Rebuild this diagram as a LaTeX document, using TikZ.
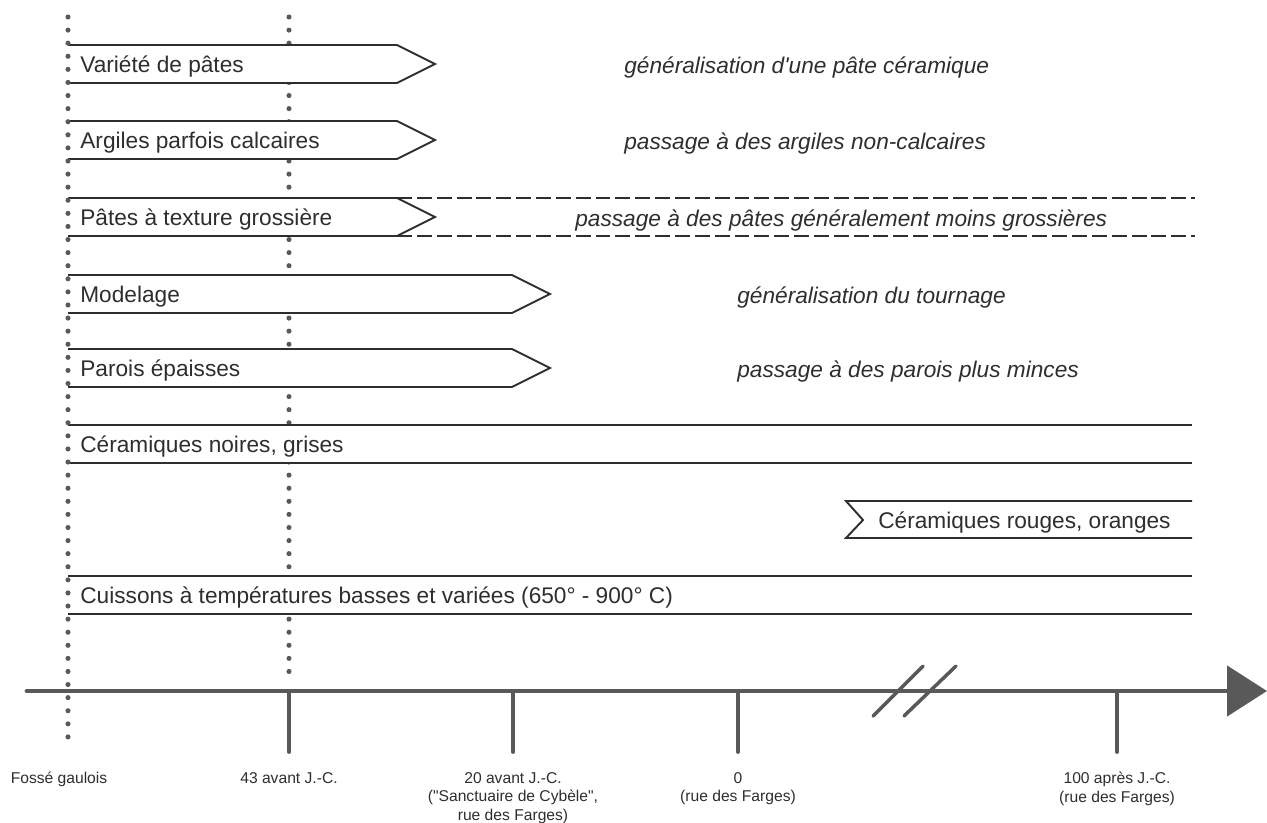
\documentclass[tikz,border=0pt]{standalone}
\usepackage{fontspec}
\setmainfont{Liberation Sans}
\usetikzlibrary{arrows.meta}
\definecolor{trait}{HTML}{2E2E2E}
\definecolor{gris}{HTML}{595959}

\begin{document}
\begin{tikzpicture}[x=0.02cm,y=-0.02cm,
		bande/.style={draw=trait,fill=white,line width=1.1pt},
		filet/.style={trait,line width=1.1pt},
		pointille/.style={gris,line width=2.9pt,line cap=round,dash pattern=on 0pt off 7.45pt},
		txt/.style={anchor=base west,inner sep=0pt,text=trait,font=\fontsize{12.9}{15}\selectfont},
		evol/.style={txt,font=\fontsize{12.9}{15}\selectfont\itshape},
		graduation/.style={gris,line width=2.2pt,line cap=round},
		date/.style={anchor=north,align=center,inner sep=0pt,text=trait,font=\fontsize{8.9}{10.5}\selectfont}]
	\useasboundingbox (0,0) rectangle (1267,822);
	\draw[pointille] (289,17) -- (289,675);

	\foreach \y/\pointe in {64/397, 140/397, 294/512, 368/512}
		\filldraw[bande] (68,\y-19) -- (\pointe,\y-19) -- (\pointe+38,\y) -- (\pointe,\y+19) -- (68,\y+19);
	\filldraw[bande] (68,198) -- (397,198) -- (435,217) -- (397,236) -- (68,236);
	\draw[filet,dash pattern=on 8.5pt off 2.8pt] (397,198) -- (1195,198) (397,236) -- (1195,236);
	\foreach \y in {444, 595} {
		\fill[white] (68,\y-19) rectangle (1192,\y+19);
		\draw[filet] (68,\y-19) -- (1192,\y-19) (68,\y+19) -- (1192,\y+19);
	}
	\filldraw[bande] (1192,501) -- (846,501) -- (863,520) -- (846,538) -- (1192,538);

	\draw[pointille] (68,17) -- (68,738);

	\foreach \y/\nom/\texte in {64/v1/{Variété de pâtes}, 140/v2/{Argiles parfois calcaires},
			217/v3/{Pâtes à texture grossière}, 294/v4/Modelage, 368/v5/{Parois épaisses},
			444/v6/{Céramiques noires, grises},
			595/v8/{Cuissons à températures basses et variées (650° - 900° C)}}
		\node[txt] (\nom) at (80,\y+8.5) {\texte};
	\node[txt] (v7) at (878,528.5) {Céramiques rouges, oranges};

	\foreach \x/\y/\nom/\texte in {624/64/e1/{généralisation d\textquotesingle une pâte céramique},
			624/140/e2/{passage à des argiles non-calcaires},
			575/217/e3/{passage à des pâtes généralement moins grossières},
			737/294/e4/{généralisation du tournage},
			737/368/e5/{passage à des parois plus minces}}
		\node[evol] (\nom) at (\x,\y+9) {\texte};

	\draw[gris,line width=2.8pt,line cap=round,-{Triangle[length=0.8cm,width=1cm]}] (27,691) -- (1267,691);
	\draw[gris,line width=2pt,line cap=round] (873,716) -- (923,666) (904,716) -- (956,666);

	\node[date] (d0) at (59,772) {Fossé gaulois};
	\foreach \x/\nom/\texte in {289/d1/{43 avant J.-C.},
			513/d2/{20 avant J.-C.\\(\textquotedbl Sanctuaire de Cybèle\textquotedbl,\\rue des Farges)},
			738/d3/{0\\(rue des Farges)},
			1117/d4/{100 après J.-C.\\(rue des Farges)}} {
		\coordinate (h\nom) at (\x,691);
		\node[date] (\nom) at (\x,772) {\texte};
		\draw[graduation] (h\nom) -- (\x,752);
	}
\end{tikzpicture}
\end{document}
